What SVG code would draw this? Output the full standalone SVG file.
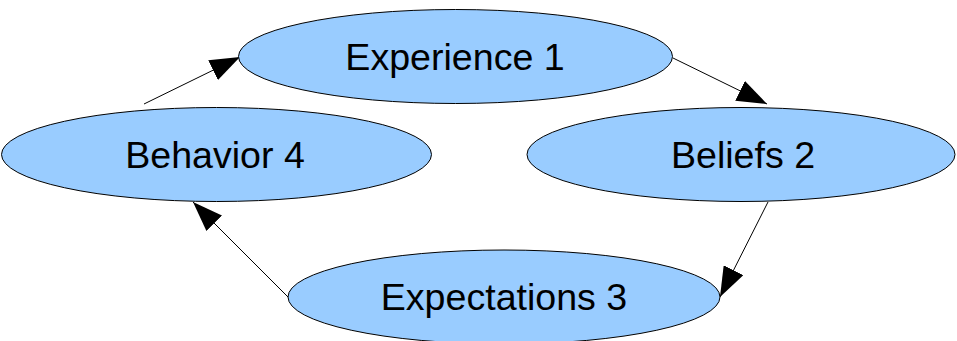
<svg xmlns="http://www.w3.org/2000/svg" width="957" height="341" viewBox="0 0 957 341">
<style>
.n{fill:#99ccff;stroke:#000;stroke-width:1}
.t{font-family:"Liberation Sans",Arial,sans-serif;font-size:37.6px;fill:#000;text-anchor:middle}
.c{stroke:#000;stroke-width:1;fill:none;marker-end:url(#ah)}
</style>
<defs>
<marker id="ah" markerUnits="userSpaceOnUse" markerWidth="32" markerHeight="22" refX="30" refY="11" orient="auto">
<path d="M0,0 L30,11 L0,22 Z" fill="#000"/>
</marker>
</defs>
<rect width="957" height="341" fill="#fff"/>
<g id="connectors">
<line class="c" x1="144" y1="104" x2="240" y2="57"/>
<line class="c" x1="673" y1="58" x2="767" y2="104"/>
<line class="c" x1="768" y1="202" x2="720" y2="297"/>
<line class="c" x1="288" y1="297" x2="193" y2="202"/>
</g>
<g id="experience">
<ellipse class="n" cx="455.5" cy="56.5" rx="217" ry="47"/>
<text class="t" x="455" y="70">Experience 1</text>
</g>
<g id="behavior">
<ellipse class="n" cx="216.5" cy="154.5" rx="215" ry="47"/>
<text class="t" x="215" y="168">Behavior 4</text>
</g>
<g id="beliefs">
<ellipse class="n" cx="741" cy="154.5" rx="214" ry="47"/>
<text class="t" x="743" y="168">Beliefs 2</text>
</g>
<g id="expectations">
<ellipse class="n" cx="504" cy="297" rx="216" ry="47"/>
<text class="t" x="504" y="310">Expectations 3</text>
</g>
</svg>
